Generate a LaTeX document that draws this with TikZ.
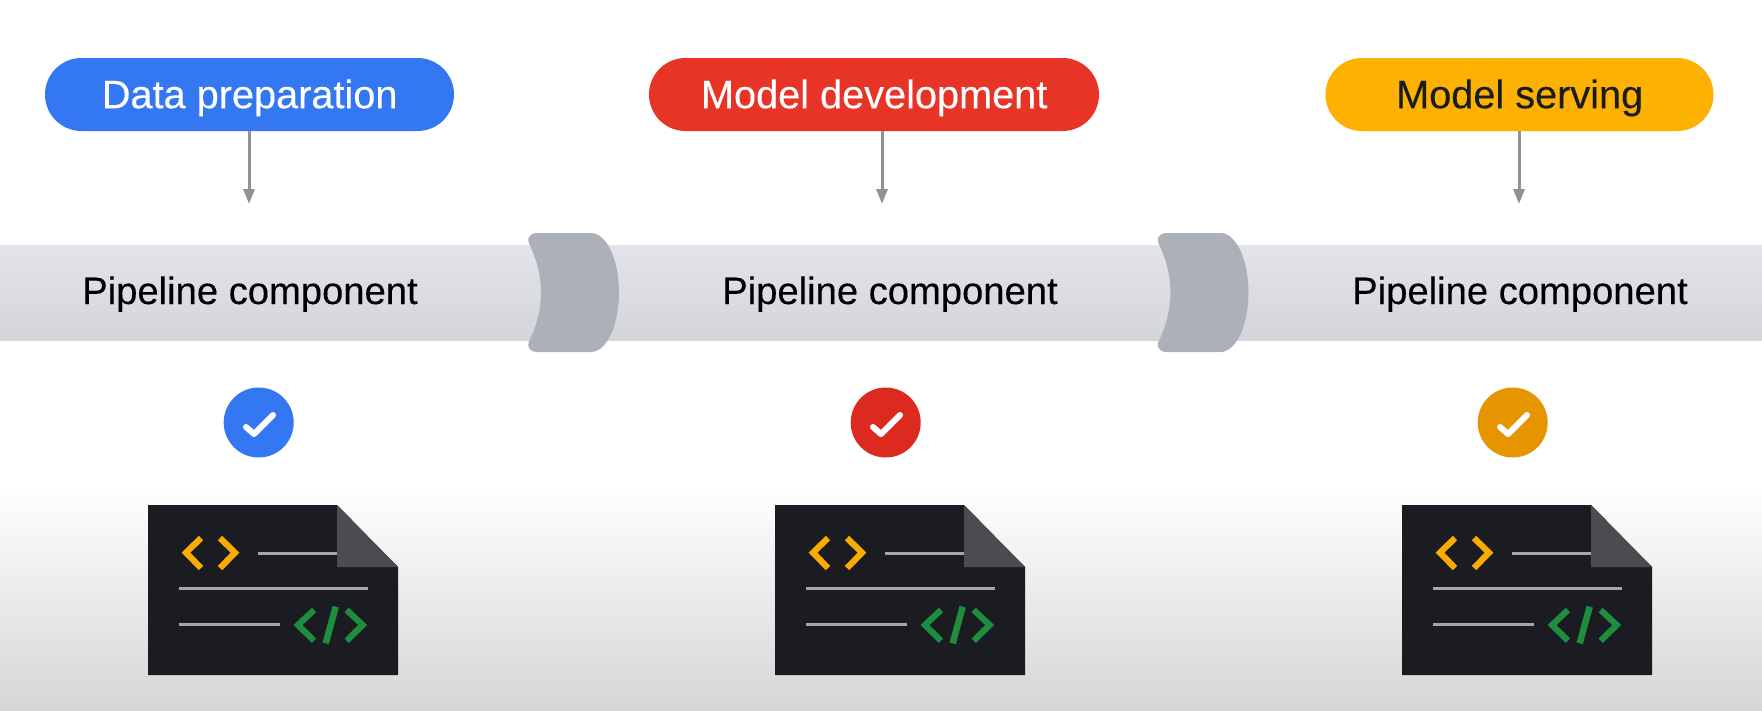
\documentclass[tikz,border=0pt]{standalone}
\usepackage{fontspec}
\setmainfont{Liberation Sans}[FakeBold=0.25]
\definecolor{cblue}{HTML}{3477F3}
\definecolor{cred}{HTML}{E83327}
\definecolor{cyellow}{HTML}{FDB100}
\definecolor{okblue}{HTML}{3477F3}
\definecolor{okred}{HTML}{DC2A20}
\definecolor{okorange}{HTML}{E69500}
\definecolor{arrowgray}{HTML}{909195}
\definecolor{couplergray}{HTML}{ACB0B9}
\definecolor{pipetop}{HTML}{E3E4E9}
\definecolor{pipebottom}{HTML}{D4D5DA}
\definecolor{docbody}{HTML}{1A1C21}
\definecolor{docfold}{HTML}{4A4C51}
\definecolor{docline}{HTML}{A5A7AB}
\definecolor{docorange}{HTML}{F9AB00}
\definecolor{docgreen}{HTML}{1E8E3E}
\definecolor{floormid}{HTML}{E6E6E6}
\definecolor{floorlow}{HTML}{D6D6D6}
\usetikzlibrary{arrows.meta}
\tikzset{
  pill/.style={minimum height=73pt, inner sep=0pt,
    font=\fontsize{39.7}{39.7}\selectfont, text height=31pt, text depth=4pt, anchor=north west},
  pipelabel/.style={font=\fontsize{38.2}{38.2}\selectfont, text=black, inner sep=0pt,
    text height=27pt, text depth=8pt, anchor=base},
  feed/.style={draw=arrowgray, line width=3pt, -{Triangle[length=15pt,width=11pt]}},
  coupler/.style={fill=couplergray},
  tick/.style={draw=white, line width=6pt, line cap=round, line join=round},
  docrule/.style={draw=docline, line width=3pt},
  codeor/.style={draw=docorange, line width=6.2pt, line join=miter},
  codegr/.style={draw=docgreen, line width=6.2pt, line join=miter},
}
% true round outlines made of short straight pieces
\newcommand{\stadium}[5]{% color, x0, y0, x1, y1
  \pgfmathsetmacro{\rr}{0.5*(#5-#3)}
  \fill[#1] plot[domain=-90:90,samples=45] ({#4-\rr+\rr*cos(\x)},{#3+\rr+\rr*sin(\x)})
    -- plot[domain=90:270,samples=45] ({#2+\rr+\rr*cos(\x)},{#3+\rr+\rr*sin(\x)}) -- cycle;
}
\begin{document}
\begin{tikzpicture}[x=1pt,y=-1pt]
\useasboundingbox (0,0) rectangle (1762,710);
% background
\fill[white] (0,0) rectangle (1762,710);
\shade[top color=white, middle color=floormid, bottom color=floorlow] (0,485) rectangle (1762,710);
% pipe
\shade[top color=pipetop, bottom color=pipebottom] (0,245) rectangle (1762,340.7);
% couplers
\foreach \dx in {0,629.5}{
  \begin{scope}[xshift=\dx pt]
    \fill[couplergray] (536,233) -- (591,233)
      -- plot[domain=-90:90,samples=45] ({591+28*cos(\x)},{292.5+59.5*sin(\x)})
      -- (536,352) -- (532,351) -- (529,348) -- (528.2,345) -- (528.8,342)
      -- plot[domain=342:243,samples=40] ({541-12.2*((\x-292.5)/49.5)^2},{\x})
      -- (528.2,240) -- (529,237) -- (532,234) -- cycle;
  \end{scope}
}
% pills
\stadium{cblue}{45}{58}{454}{131}
\stadium{cred}{649}{58}{1099}{131}
\stadium{cyellow}{1325.5}{58}{1713.5}{131}
\node[pill, minimum width=409pt, text=white] (prep) at (45,58) {Data preparation};
\node[pill, minimum width=450pt, text=white] (dev) at (649,58) {Model development};
\node[pill, minimum width=388pt, text=docbody] (serve) at (1325.5,58) {Model serving};
% arrow ends
\coordinate (prepstart) at (249,131);
\coordinate (devstart) at (882,131);
\coordinate (servestart) at (1519,131);
\coordinate (prepend) at (249,204);
\coordinate (devend) at (882,204);
\coordinate (serveend) at (1519,204);
\draw[feed] (prepstart) -- (prepend);
\draw[feed] (devstart) -- (devend);
\draw[feed] (servestart) -- (serveend);
% pipe labels
\node[pipelabel] (lab1) at (250,304) {Pipeline component};
\node[pipelabel] (lab2) at (890,304) {Pipeline component};
\node[pipelabel] (lab3) at (1520,304) {Pipeline component};
% checks and documents
\foreach \dx/\col in {0/okblue,627/okred,1254/okorange}{
  \begin{scope}[xshift=\dx pt]
    \fill[\col] plot[domain=0:360,samples=73] ({258.7+35*cos(\x)},{422.5+35*sin(\x)}) -- cycle;
    \draw[tick] (246,427) -- (254,434) -- (273,415);
    \fill[docbody] (148,505) -- (337,505) -- (398,567) -- (398,675) -- (148,675) -- cycle;
    \fill[docfold] (337,505) -- (398,567) -- (337,567) -- cycle;
    \draw[docrule] (257.5,553) -- (337,553);
    \draw[docrule] (179,588.7) -- (368,588.7);
    \draw[docrule] (179,624.3) -- (280,624.3);
    \draw[codeor] (201,538) -- (186,552.7) -- (201,568);
    \draw[codeor] (220,538) -- (235,552.7) -- (220,568);
    \draw[codegr] (314,610) -- (298,625) -- (314,640.7);
    \draw[codegr, line width=6.5pt] (335.7,606.7) -- (325.7,643.3);
    \draw[codegr] (346.7,610) -- (362.7,625) -- (346.7,640.7);
  \end{scope}
}
\end{tikzpicture}
\end{document}
